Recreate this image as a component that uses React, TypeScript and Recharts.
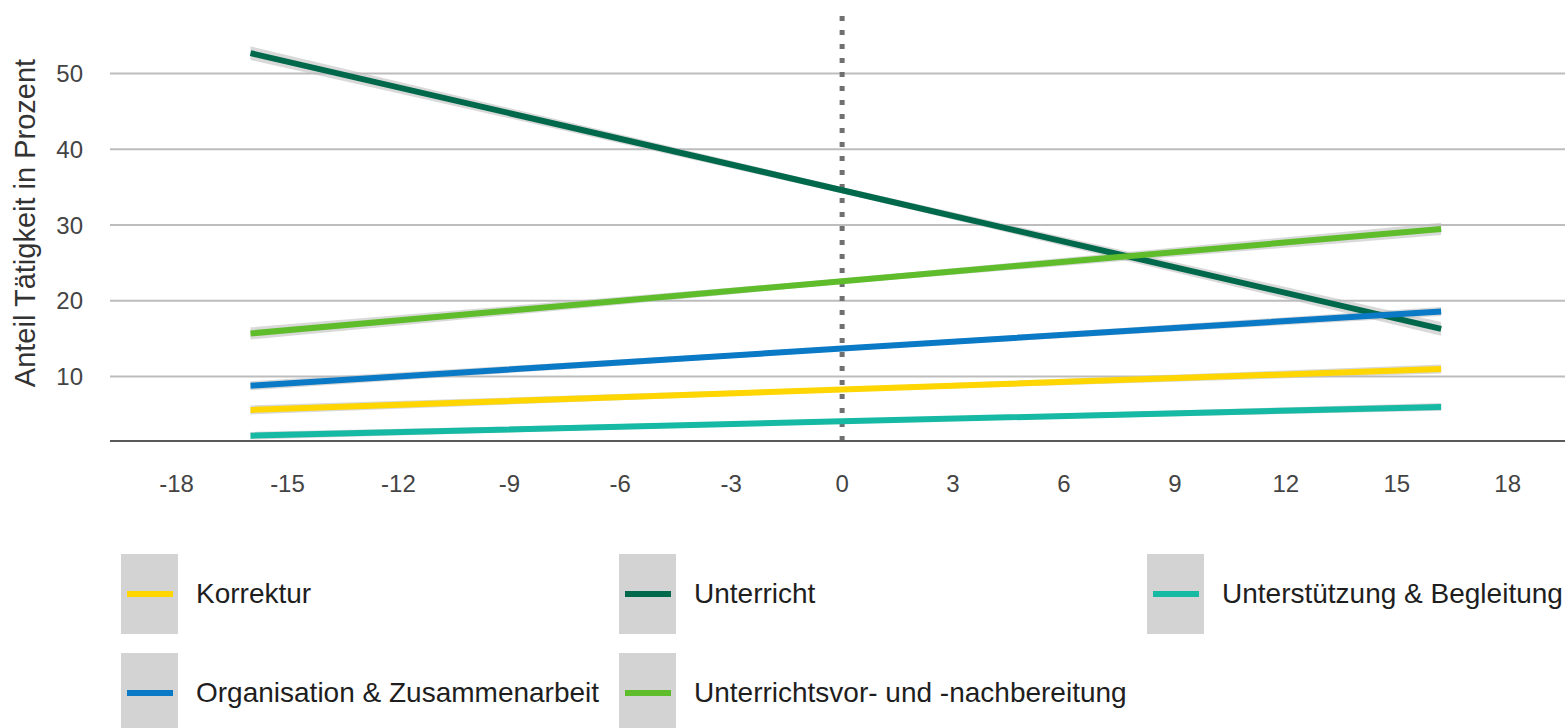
import React from 'react';
import {
  ComposedChart,
  Line,
  Area,
  XAxis,
  YAxis,
  ReferenceLine,
} from 'recharts';

// x positions of the model lines (start, centre, end)
const xs = [-16, 0, 16.2];

// fitted values in percent
const korrektur = [5.6, 8.3, 11.0];
const unterricht = [52.7, 34.6, 16.3];
const unterstuetzung = [2.2, 4.1, 6.0];
const organisation = [8.8, 13.7, 18.6];
const vorNach = [15.7, 22.6, 29.5];

// half width of the grey confidence band
const korrekturCi = [0.6, 0.3, 0.6];
const unterrichtCi = [0.9, 0.4, 0.9];
const unterstuetzungCi = [0.5, 0.25, 0.5];
const organisationCi = [0.6, 0.3, 0.6];
const vorNachCi = [0.8, 0.35, 0.8];

const xTicks = [-18, -15, -12, -9, -6, -3, 0, 3, 6, 9, 12, 15, 18];
const yTicks = [10, 20, 30, 40, 50];

const SERIES = [
  { key: 'unterricht', name: 'Unterricht', color: '#00694b', values: unterricht, ci: unterrichtCi },
  { key: 'vorNach', name: 'Unterrichtsvor- und -nachbereitung', color: '#5fbd2c', values: vorNach, ci: vorNachCi },
  { key: 'organisation', name: 'Organisation & Zusammenarbeit', color: '#0a79c6', values: organisation, ci: organisationCi },
  { key: 'korrektur', name: 'Korrektur', color: '#ffd600', values: korrektur, ci: korrekturCi },
  { key: 'unterstuetzung', name: 'Unterstützung & Begleitung', color: '#16b9a3', values: unterstuetzung, ci: unterstuetzungCi },
];

const data = xs.map((x, i) => {
  const row: Record<string, number | number[]> = { x };
  SERIES.forEach((s) => {
    row[s.key] = s.values[i];
    row[s.key + 'Band'] = [s.values[i] - s.ci[i], s.values[i] + s.ci[i]];
  });
  return row;
});

// legend layout: [series key, left, top]
const LEGEND: [string, number, number][] = [
  ['korrektur', 121, 554],
  ['unterricht', 619, 554],
  ['unterstuetzung', 1147, 554],
  ['organisation', 121, 653],
  ['vorNach', 619, 653],
];

const FONT = '"Liberation Sans", Arial, sans-serif';

function LegendItem({ name, color, left, top }: { name: string; color: string; left: number; top: number }) {
  return (
    <div style={{ position: 'absolute', left, top, display: 'flex', alignItems: 'center', height: 80 }}>
      <div
        style={{
          width: 57,
          height: 80,
          background: '#d3d3d3',
          display: 'flex',
          alignItems: 'center',
          justifyContent: 'center',
        }}
      >
        <div style={{ width: 46, height: 6, background: color }} />
      </div>
      <span style={{ marginLeft: 18, fontSize: 28, color: '#1e1e1e', whiteSpace: 'nowrap' }}>{name}</span>
    </div>
  );
}

export default function App() {
  return (
    <div
      style={{
        position: 'absolute',
        left: 0,
        top: 0,
        width: 1565,
        height: 728,
        overflow: 'hidden',
        background: '#fff',
        fontFamily: FONT,
      }}
    >
      <ComposedChart width={1565} height={500} data={data} margin={{ top: 13, right: 0, left: 0, bottom: 0 }}>
        {yTicks.map((t) => (
          <ReferenceLine key={'grid' + t} y={t} stroke="#bdbdbd" strokeWidth={2} />
        ))}
        <XAxis
          type="number"
          dataKey="x"
          domain={[-19.8, 19.55]}
          ticks={xTicks}
          height={59}
          tickSize={0}
          tickMargin={34}
          tickLine={false}
          axisLine={{ stroke: '#5a5a5a', strokeWidth: 2 }}
          tick={{ fontSize: 24, fill: '#444', fontFamily: FONT }}
          allowDataOverflow
        />
        <YAxis
          type="number"
          domain={[1.5, 58]}
          ticks={yTicks}
          width={110}
          tickSize={0}
          tickMargin={27}
          tickLine={false}
          axisLine={false}
          tick={{ fontSize: 24, fill: '#444', fontFamily: FONT }}
          allowDataOverflow
          label={{
            content: () => (
              <text
                x={0}
                y={0}
                transform="translate(25,223) rotate(-90)"
                textAnchor="middle"
                dominantBaseline="central"
                fontSize={29}
                fill="#333"
                fontFamily={FONT}
              >
                Anteil Tätigkeit in Prozent
              </text>
            ),
          }}
        />
        {SERIES.map((s) => (
          <Area
            key={s.key + 'Band'}
            type="linear"
            dataKey={s.key + 'Band'}
            stroke="none"
            fill="#b9b9b9"
            fillOpacity={0.55}
            isAnimationActive={false}
            activeDot={false}
          />
        ))}
        <ReferenceLine x={0} stroke="#707070" strokeWidth={5} strokeDasharray="5 9" />
        {SERIES.map((s) => (
          <Line
            key={s.key}
            type="linear"
            dataKey={s.key}
            stroke={s.color}
            strokeWidth={6}
            dot={false}
            activeDot={false}
            isAnimationActive={false}
          />
        ))}
      </ComposedChart>
      {LEGEND.map(([key, left, top]) => {
        const s = SERIES.find((d) => d.key === key)!;
        return <LegendItem key={key} name={s.name} color={s.color} left={left} top={top} />;
      })}
    </div>
  );
}
